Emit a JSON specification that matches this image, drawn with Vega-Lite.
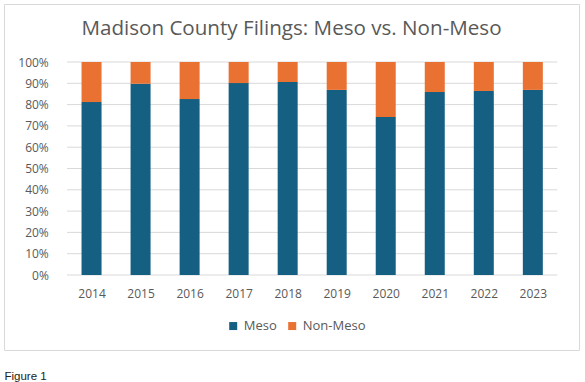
{
  "$schema": "https://vega.github.io/schema/vega-lite/v6.json",
  "width": 575,
  "height": 346,
  "autosize": {"type": "none"},
  "padding": {"left": 4, "top": 4, "right": 6, "bottom": 32},
  "background": "white",
  "config": {
    "font": "Open Sans",
    "view": {"stroke": "#d9d9d9", "strokeWidth": 1},
    "axisX": {
      "offset": -56.7, "domain": false, "ticks": false, "tickSize": 0, "labelPadding": 0,
      "labelBaseline": "middle", "labelFontSize": 12, "labelColor": "#595959", "labelFont": "Open Sans",
      "grid": false, "labelFlush": false, "labelOverlap": false,
      "titleX": 0, "titleY": 86, "titleAlign": "left", "titleAnchor": "start", "titleBaseline": "alphabetic",
      "titleFont": "Liberation Sans", "titleFontSize": 11.5, "titleFontWeight": "normal", "titleColor": "#222222"
    },
    "axisY": {
      "offset": -44.3, "domain": false, "ticks": false, "tickSize": 0, "labelPadding": 0,
      "labelFontSize": 12, "labelColor": "#595959", "labelFont": "Open Sans",
      "grid": false, "labelFlush": false, "labelOverlap": false
    }
  },
  "title": {
    "text": "Madison County Filings: Meso vs. Non-Meso",
    "font": "Open Sans", "fontSize": 20.6, "fontWeight": "normal", "color": "#595959",
    "anchor": "middle", "frame": "group", "offset": -51.7, "baseline": "alphabetic"
  },
  "datasets": {
    "bars": [
      {"year": 2014, "type": "Meso", "share": 0.812}, {"year": 2014, "type": "Non-Meso", "share": 0.188},
      {"year": 2015, "type": "Meso", "share": 0.898}, {"year": 2015, "type": "Non-Meso", "share": 0.102},
      {"year": 2016, "type": "Meso", "share": 0.826}, {"year": 2016, "type": "Non-Meso", "share": 0.174},
      {"year": 2017, "type": "Meso", "share": 0.901}, {"year": 2017, "type": "Non-Meso", "share": 0.099},
      {"year": 2018, "type": "Meso", "share": 0.906}, {"year": 2018, "type": "Non-Meso", "share": 0.094},
      {"year": 2019, "type": "Meso", "share": 0.869}, {"year": 2019, "type": "Non-Meso", "share": 0.131},
      {"year": 2020, "type": "Meso", "share": 0.742}, {"year": 2020, "type": "Non-Meso", "share": 0.258},
      {"year": 2021, "type": "Meso", "share": 0.859}, {"year": 2021, "type": "Non-Meso", "share": 0.141},
      {"year": 2022, "type": "Meso", "share": 0.864}, {"year": 2022, "type": "Non-Meso", "share": 0.136},
      {"year": 2023, "type": "Meso", "share": 0.869}, {"year": 2023, "type": "Non-Meso", "share": 0.131}
    ],
    "grid": [
      {"v": 0}, {"v": 0.1}, {"v": 0.2}, {"v": 0.3}, {"v": 0.4}, {"v": 0.5},
      {"v": 0.6}, {"v": 0.7}, {"v": 0.8}, {"v": 0.9}, {"v": 1}
    ]
  },
  "layer": [
    {
      "data": {"name": "grid"},
      "mark": {"type": "rule", "color": "#d9d9d9", "strokeWidth": 1},
      "encoding": {
        "x": {"datum": 2013.5, "type": "quantitative",
              "scale": {"domain": [2012.3166, 2023.8396], "nice": false, "zero": false},
              "axis": {"title": "Figure 1", "values": [2014, 2015, 2016, 2017, 2018, 2019, 2020, 2021, 2022, 2023], "format": "d"}},
        "x2": {"datum": 2023.5},
        "y": {"field": "v", "type": "quantitative",
              "scale": {"domain": [-0.3521, 1.2723], "nice": false, "zero": false},
              "axis": {"title": null, "values": [0, 0.1, 0.2, 0.3, 0.4, 0.5, 0.6, 0.7, 0.8, 0.9, 1], "format": ".0%"}}
      }
    },
    {
      "data": {"name": "bars"},
      "mark": {"type": "bar", "width": 20},
      "encoding": {
        "x": {"field": "year", "type": "quantitative",
              "scale": {"domain": [2012.3166, 2023.8396], "nice": false, "zero": false},
              "axis": {"title": "Figure 1", "values": [2014, 2015, 2016, 2017, 2018, 2019, 2020, 2021, 2022, 2023], "format": "d"}},
        "y": {"field": "share", "type": "quantitative", "stack": "zero",
              "scale": {"domain": [-0.3521, 1.2723], "nice": false, "zero": false},
              "axis": {"title": null, "values": [0, 0.1, 0.2, 0.3, 0.4, 0.5, 0.6, 0.7, 0.8, 0.9, 1], "format": ".0%"}},
        "color": {"field": "type", "type": "nominal",
                  "scale": {"domain": ["Meso", "Non-Meso"], "range": ["#156082", "#E97132"]},
                  "legend": {"orient": "none", "direction": "horizontal", "legendX": 222.7, "legendY": 315.3,
                             "title": null, "symbolType": "square", "symbolSize": 64, "symbolStrokeWidth": 0,
                             "labelFontSize": 13, "labelColor": "#595959", "labelFont": "Open Sans",
                             "columnPadding": 8, "labelOffset": 4, "padding": 0}},
        "order": {"field": "type", "sort": "ascending"}
      }
    }
  ]
}
